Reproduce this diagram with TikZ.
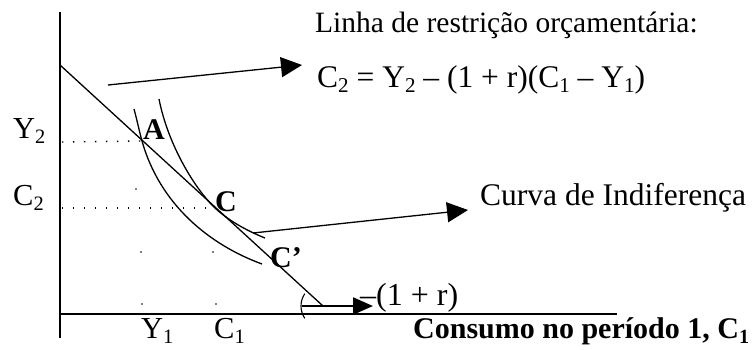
\documentclass[tikz,border=0pt]{standalone}
\usepackage{fontspec}
\setmainfont{Liberation Serif}
\usepackage{graphicx}
\usetikzlibrary{arrows.meta}
\newcommand{\sbs}[1]{\raisebox{-0.17em}{\scalebox{0.67}{#1}}}
\begin{document}
\begin{tikzpicture}[x=1pt,y=-1pt,
  axis/.style={line width=1.8pt},
  budget/.style={line width=1.3pt},
  curve/.style={line width=1.3pt},
  dots/.style={line width=1.4pt, dash pattern=on 1.4pt off 9.6pt},
  dotpt/.style={fill=black, draw=none},
  bigarrow/.style={line width=1.3pt,-{Triangle[length=21pt,width=20pt]}},
  lbl/.style={inner sep=0pt, anchor=base west},
  sz/.style={font=\fontsize{#1}{#1}\selectfont},
  bsz/.style={font=\fontsize{#1}{#1}\selectfont\bfseries},
]
\useasboundingbox (0,0) rectangle (752,349);
% axes
\coordinate (O) at (60,314);
\coordinate (ytop) at (60,12);
\coordinate (ybot) at (60,338);
\coordinate (xend) at (617,314);
\draw[axis] (ytop) -- (ybot);
\draw[axis] (O) -- (xend);
% budget line
\coordinate (B0) at (60,65);
\coordinate (B1) at (323,306);
\draw[budget] (B0) -- (B1);
% points
\coordinate (A) at (142,141);
\coordinate (C) at (215,208);
\coordinate (y2s) at (62,142);
\coordinate (c2s) at (62,208);
\draw[dots] (y2s) -- (A);
\draw[dots] (c2s) -- (C);
\foreach \p in {(136,189),(141,252),(213,252),(142,304),(216,304)}
  \fill[dotpt] \p circle (0.9);
% indifference curves
\draw[curve] (134,109) .. controls (137,120) and (139,130) .. (A)
  .. controls (160,205) and (210,245) .. (262,264);
\draw[curve] (159,99) .. controls (168,145) and (195,189) .. (C)
  .. controls (230,222) and (250,232) .. (265,238);
% slope arc and arrow
\draw[line width=1.1pt] (B1) ++(214:22) arc[start angle=214, end angle=146, radius=22];
\coordinate (s0) at (302,306);
\coordinate (s1) at (373,306);
\draw[line width=2.4pt,-{Triangle[length=20pt,width=17pt]}] (s0) -- (s1);
% labels
\node[lbl,sz=30.5] (lY2) at (13,138) {Y\sbs{2}};
\node[lbl,sz=30.5] (lC2) at (13,205) {C\sbs{2}};
\node[lbl,sz=30.5] (lY1) at (141,338) {Y\sbs{1}};
\node[lbl,sz=30.5] (lC1) at (214,338) {C\sbs{1}};
\node[lbl,bsz=30] (lA) at (143,139) {A};
\node[lbl,bsz=30] (lC) at (215,211) {C};
\node[lbl,bsz=30] (lCp) at (270,267) {C’};
\node[lbl,sz=29.5] (linha) at (315,32) {Linha de restrição orçamentária:};
\node[lbl,sz=31.5] (eq) at (317,87) {C\sbs{2} = Y\sbs{2} – (1 + r)(C\sbs{1} – Y\sbs{1})};
\node[lbl,sz=31.5] (curva) at (480,205) {Curva de Indiferença};
\node[lbl,sz=32] (slope) at (360,305) {–(1 + r)};
\node[lbl,bsz=30] (xlab) at (413,338) {Consumo no período 1, C\sbs{1}};
% arrows to labels
\coordinate (t0) at (108,85);
\coordinate (t1) at (302,65);
\draw[bigarrow] (t0) -- (t1);
\coordinate (m0) at (253,233);
\coordinate (m1) at (468,210);
\draw[bigarrow] (m0) -- (m1);
\end{tikzpicture}
\end{document}
